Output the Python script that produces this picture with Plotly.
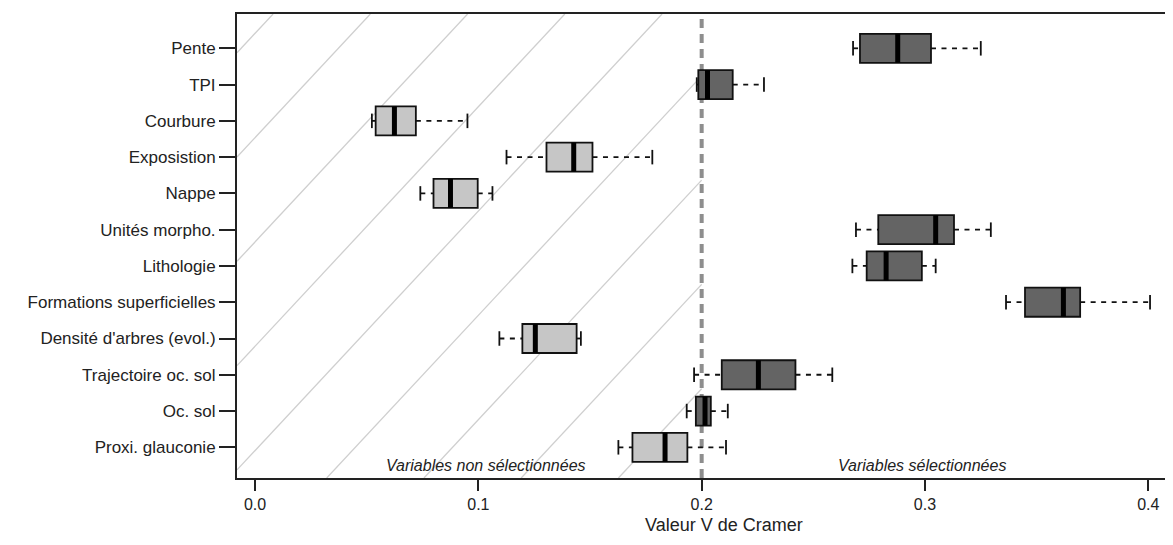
import plotly.graph_objects as go

# variables, de haut en bas
variables = ["Pente", "TPI", "Courbure", "Exposistion", "Nappe", "Unités morpho.",
             "Lithologie", "Formations superficielles", "Densité d'arbres (evol.)",
             "Trajectoire oc. sol", "Oc. sol", "Proxi. glauconie"]
moustache_bas = [0.2678, 0.1978, 0.0523, 0.1126, 0.0740, 0.2691, 0.2675, 0.3363, 0.1094, 0.1966, 0.1933, 0.1627]
q1 = [0.2709, 0.1985, 0.0540, 0.1305, 0.0799, 0.2791, 0.2739, 0.3448, 0.1197, 0.2090, 0.1974, 0.1690]
mediane = [0.2878, 0.2026, 0.0624, 0.1427, 0.0875, 0.3048, 0.2826, 0.3620, 0.1255, 0.2254, 0.2015, 0.1836]
q3 = [0.3027, 0.2139, 0.0720, 0.1511, 0.0997, 0.3130, 0.2986, 0.3695, 0.1440, 0.2420, 0.2041, 0.1936]
moustache_haut = [0.3250, 0.2279, 0.0951, 0.1779, 0.1063, 0.3295, 0.3048, 0.4008, 0.1459, 0.2585, 0.2117, 0.2109]
selectionnee = [True, True, False, False, False, True, True, True, False, True, True, False]
seuil = 0.2
x_ticks = [0.0, 0.1, 0.2, 0.3, 0.4]

n = len(variables)
pos = [n - 1 - i for i in range(n)]

X_MIN, X_MAX = -0.0081, 0.4075
Y_MIN, Y_MAX = -0.846, 11.946
largeur = 0.8
cap = 0.2
police = "Liberation Sans, Arial, sans-serif"

fig = go.Figure()

# boites
fig.add_trace(go.Bar(
    x=[b - a for a, b in zip(q1, q3)], base=q1, y=pos, orientation="h", width=largeur,
    marker=dict(color=["#646464" if s else "#c6c6c6" for s in selectionnee],
                line=dict(color="#111111", width=1.8)),
    showlegend=False, hoverinfo="skip"))

# moustaches pointillees
wx, wy = [], []
for i in range(n):
    wx += [moustache_bas[i], q1[i], None, q3[i], moustache_haut[i], None]
    wy += [pos[i], pos[i], None, pos[i], pos[i], None]
fig.add_trace(go.Scatter(x=wx, y=wy, mode="lines", line=dict(color="#111111", width=1.8, dash="5px,5.5px"),
                         showlegend=False, hoverinfo="skip"))

# extremites
cx, cy = [], []
for i in range(n):
    for v in (moustache_bas[i], moustache_haut[i]):
        cx += [v, v, None]
        cy += [pos[i] - cap, pos[i] + cap, None]
fig.add_trace(go.Scatter(x=cx, y=cy, mode="lines", line=dict(color="#111111", width=1.8),
                         showlegend=False, hoverinfo="skip"))

# medianes
mx, my = [], []
for i in range(n):
    mx += [mediane[i], mediane[i], None]
    my += [pos[i] - largeur / 2, pos[i] + largeur / 2, None]
fig.add_trace(go.Scatter(x=mx, y=my, mode="lines", line=dict(color="#000000", width=5),
                         showlegend=False, hoverinfo="skip"))

# hachures de la zone non selectionnee
pente_h = 0.015145
for k in range(9):
    xt, yt = 0.00806 + 0.04355 * k, Y_MAX
    xb, yb = xt - (Y_MAX - Y_MIN) * pente_h, Y_MIN
    if xb < X_MIN:
        yb = Y_MAX - (xt - X_MIN) / pente_h
        xb = X_MIN
    if xt > seuil:
        yt = Y_MAX - (xt - seuil) / pente_h
        xt = seuil
    fig.add_shape(type="line", x0=xb, y0=yb, x1=xt, y1=yt, xref="x", yref="y",
                  line=dict(color="#cfcfcf", width=1.3), layer="below")

fig.add_shape(type="line", x0=seuil, x1=seuil, y0=Y_MIN, y1=Y_MAX, xref="x", yref="y",
              line=dict(color="#8e8e8e", width=4, dash="9px,6px"), layer="below")

fig.add_annotation(x=0.1035, y=-0.49, text="<i>Variables non sélectionnées</i>", showarrow=False,
                   font=dict(size=16, color="#222222", family=police), xanchor="center", yanchor="middle")
fig.add_annotation(x=0.2987, y=-0.49, text="<i>Variables sélectionnées</i>", showarrow=False,
                   font=dict(size=16, color="#222222", family=police), xanchor="center", yanchor="middle")
fig.add_annotation(x=0.5243, y=-0.1013, xref="paper", yref="paper", text="Valeur V de Cramer",
                   showarrow=False, font=dict(size=18, color="#222222", family=police),
                   xanchor="center", yanchor="middle")

fig.update_layout(
    width=1157, height=529,
    margin=dict(l=229, r=0, t=6, b=59),
    plot_bgcolor="white", paper_bgcolor="white",
    font=dict(family=police, color="#222222"),
    xaxis=dict(range=[X_MIN, X_MAX], tickvals=x_ticks, ticktext=[f"{v:.1f}" for v in x_ticks],
               showgrid=False, zeroline=False, showline=True, mirror=True, linecolor="#222222",
               linewidth=2, ticks="outside", ticklen=11, tickwidth=1.5, tickcolor="#222222",
               tickfont=dict(size=16), ticklabelstandoff=0),
    yaxis=dict(range=[Y_MIN, Y_MAX], tickvals=pos, ticktext=variables, showgrid=False, zeroline=False,
               showline=True, linecolor="#222222", linewidth=2, ticks="outside", ticklen=16,
               tickwidth=1.5, tickcolor="#222222", tickfont=dict(size=17)),
)

fig.write_html("out.html")
